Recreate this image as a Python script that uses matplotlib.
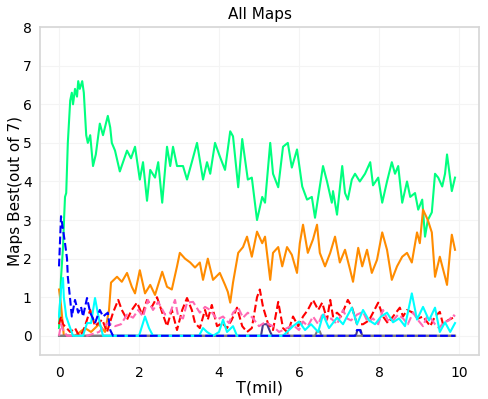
import numpy as np
import matplotlib
matplotlib.use('Agg')
import matplotlib.pyplot as plt

# Map share over time
greenT = [0.0, 0.05, 0.1, 0.125, 0.15, 0.18, 0.22, 0.28, 0.32, 0.35, 0.4, 0.45, 0.48, 0.52, 0.58, 0.62,
          0.68, 0.72, 0.78, 0.85, 0.92, 1.02, 1.1, 1.22, 1.28, 1.32, 1.4, 1.52, 1.6, 1.7, 1.8, 1.9,
          2.02, 2.1, 2.2, 2.28, 2.4, 2.48, 2.58, 2.7, 2.78, 2.85, 2.95, 3.1, 3.2, 3.32, 3.45, 3.6,
          3.7, 3.78, 3.9, 4.02, 4.15, 4.28, 4.35, 4.48, 4.58, 4.72, 4.82, 4.95, 5.08, 5.15, 5.28, 5.35,
          5.48, 5.6, 5.72, 5.82, 5.95, 6.08, 6.2, 6.32, 6.4, 6.52, 6.6, 6.7, 6.82, 6.85, 6.95, 7.08,
          7.15, 7.22, 7.32, 7.4, 7.52, 7.65, 7.78, 7.85, 7.98, 8.08, 8.2, 8.32, 8.4, 8.48, 8.58, 8.7,
          8.78, 8.9, 8.98, 9.08, 9.15, 9.22, 9.32, 9.4, 9.48, 9.58, 9.65, 9.7, 9.82, 9.9]
greenV = [0.2, 1.5, 2.3, 3.0, 3.6, 3.7, 5.0, 6.1, 6.3, 6.0, 6.4, 6.2, 6.6, 6.4, 6.6, 6.3,
          5.2, 5.0, 5.2, 4.4, 4.7, 5.5, 5.2, 5.7, 5.4, 5.0, 4.8, 4.26, 4.5, 4.8, 4.6, 4.9,
          4.05, 4.5, 3.5, 4.3, 4.1, 4.5, 3.45, 4.9, 4.4, 4.9, 4.4, 4.4, 4.05, 4.5, 5.0, 4.05,
          4.5, 4.2, 5.0, 4.65, 4.3, 5.3, 5.17, 3.85, 5.1, 4.05, 4.1, 3.0, 3.6, 3.45, 5.0, 4.2,
          3.85, 4.9, 5.0, 4.36, 4.83, 3.87, 3.53, 3.6, 3.06, 3.87, 4.4, 4.0, 3.45, 3.75, 3.14, 4.4,
          3.7, 3.53, 4.05, 4.2, 4.0, 4.2, 4.5, 3.9, 4.1, 3.45, 4.0, 4.5, 4.2, 4.4, 3.45, 4.0,
          3.6, 3.7, 3.27, 3.53, 2.57, 3.0, 3.2, 4.2, 4.1, 3.87, 4.2, 4.7, 3.75, 4.1]

orangeT = [0.0, 0.05, 0.12, 0.4, 0.65, 0.8, 1.0, 1.15, 1.25, 1.3, 1.45, 1.57, 1.7, 1.82, 1.9, 2.02,
           2.15, 2.28, 2.4, 2.58, 2.7, 2.82, 2.95, 3.02, 3.15, 3.28, 3.4, 3.52, 3.6, 3.72, 3.85, 4.02,
           4.15, 4.22, 4.28, 4.35, 4.48, 4.6, 4.7, 4.82, 4.95, 5.08, 5.15, 5.28, 5.35, 5.48, 5.58, 5.7,
           5.82, 5.95, 6.02, 6.1, 6.22, 6.35, 6.45, 6.52, 6.65, 6.78, 6.9, 7.02, 7.15, 7.28, 7.35, 7.48,
           7.58, 7.7, 7.82, 7.95, 8.08, 8.2, 8.32, 8.45, 8.58, 8.7, 8.82, 8.95, 9.02, 9.1, 9.22, 9.32,
           9.4, 9.52, 9.65, 9.7, 9.78, 9.82, 9.9]
orangeV = [1.2, 0.8, 0.0, 0.0, 0.2, 0.1, 0.3, 0.1, 0.67, 1.38, 1.53, 1.4, 1.63, 1.27, 1.1, 1.7,
           1.1, 1.32, 1.06, 1.66, 1.27, 1.2, 1.8, 2.15, 2.0, 1.9, 1.77, 1.9, 1.45, 2.0, 1.45, 1.63,
           1.32, 1.14, 0.86, 1.38, 2.15, 2.3, 2.57, 2.05, 2.7, 2.4, 2.57, 1.45, 2.15, 2.3, 1.8, 2.3,
           2.1, 1.63, 2.4, 2.88, 2.15, 2.5, 2.88, 2.15, 1.8, 2.15, 2.57, 1.9, 2.23, 1.7, 1.4, 2.28,
           1.8, 2.23, 1.63, 1.97, 2.68, 2.23, 1.45, 1.8, 2.05, 2.15, 1.9, 2.68, 2.4, 3.27, 3.0, 2.68,
           1.53, 2.05, 1.53, 1.32, 2.23, 2.62, 2.23]

redT = [0.0, 0.05, 0.1, 0.28, 0.4, 0.5, 0.6, 0.78, 0.9, 1.08, 1.2, 1.35, 1.48, 1.57, 1.7, 1.82,
        1.95, 2.08, 2.2, 2.32, 2.45, 2.58, 2.7, 2.82, 2.95, 3.08, 3.2, 3.32, 3.4, 3.52, 3.65, 3.72,
        3.82, 3.95, 4.08, 4.2, 4.32, 4.45, 4.58, 4.7, 4.82, 4.95, 5.02, 5.1, 5.22, 5.35, 5.48, 5.6,
        5.72, 5.85, 5.98, 6.1, 6.22, 6.35, 6.48, 6.58, 6.7, 6.78, 6.85, 6.95, 7.05, 7.22, 7.32, 7.45,
        7.6, 7.75, 7.98, 8.1, 8.22, 8.35, 8.52, 8.6, 8.7, 8.85, 8.98, 9.1, 9.28, 9.4, 9.52, 9.6,
        9.72, 9.85, 9.9]
redV = [0.3, 0.5, 0.3, 0.1, 0.2, 0.0, 0.1, 0.67, 0.25, 0.42, 0.1, 0.6, 0.93, 0.67, 0.42, 0.67,
        0.86, 0.55, 0.93, 0.75, 1.0, 0.6, 0.25, 0.67, 0.15, 0.67, 0.98, 0.67, 0.33, 0.2, 0.67, 0.42,
        0.8, 0.25, 0.33, 0.2, 0.42, 0.73, 0.25, 0.1, 0.2, 1.0, 1.2, 0.75, 0.33, 0.15, 0.88, 0.2,
        0.08, 0.5, 0.25, 0.5, 0.67, 0.93, 0.67, 0.86, 0.42, 0.93, 0.5, 0.6, 0.5, 0.93, 0.75, 0.3,
        0.3, 0.4, 0.86, 0.5, 0.33, 0.5, 0.73, 0.5, 0.67, 0.6, 0.45, 0.5, 0.25, 0.5, 0.62, 0.3,
        0.4, 0.47, 0.42]

pinkT = [0.0, 0.05, 0.1, 0.2, 0.7, 1.0, 1.22, 1.4, 1.55, 1.7, 1.85, 1.98, 2.1, 2.22, 2.35, 2.48,
         2.65, 2.78, 2.9, 2.98, 3.1, 3.2, 3.35, 3.52, 3.65, 3.78, 3.95, 4.1, 4.25, 4.35, 4.48, 4.6,
         4.72, 4.85, 5.0, 5.15, 5.35, 5.5, 5.7, 5.85, 6.0, 6.1, 6.22, 6.35, 6.48, 6.6, 6.7, 6.8,
         6.95, 7.1, 7.2, 7.3, 7.45, 7.6, 7.72, 7.85, 7.98, 8.1, 8.22, 8.35, 8.48, 8.6, 8.72, 8.85,
         8.98, 9.1, 9.2, 9.3, 9.4, 9.5, 9.62, 9.75, 9.85, 9.9]
pinkV = [0.0, 0.3, 0.15, 0.0, 0.0, 0.1, 0.33, 0.25, 0.3, 0.55, 0.47, 0.67, 0.5, 0.93, 0.67, 0.88,
         0.55, 0.6, 0.93, 0.5, 0.45, 0.86, 0.88, 0.6, 0.75, 0.67, 0.42, 0.5, 0.33, 0.6, 0.73, 0.47,
         0.6, 0.45, 0.25, 0.35, 0.25, 0.1, 0.2, 0.28, 0.15, 0.37, 0.25, 0.5, 0.3, 0.6, 0.4, 0.45,
         0.3, 0.67, 0.45, 0.4, 0.55, 0.62, 0.35, 0.45, 0.3, 0.67, 0.4, 0.4, 0.55, 0.45, 0.3, 0.6,
         0.4, 0.25, 0.5, 0.45, 0.3, 0.2, 0.35, 0.4, 0.55, 0.5]

cyanT = [0.0, 0.05, 0.1, 0.12, 0.18, 0.28, 0.35, 0.6, 0.7, 0.8, 0.9, 0.95, 1.02, 1.1, 2.0, 2.15,
         2.25, 2.35, 3.5, 3.6, 3.7, 3.85, 4.0, 4.1, 4.2, 4.35, 4.45, 5.6, 5.7, 5.85, 6.0, 6.15,
         6.3, 6.48, 6.6, 6.75, 6.95, 7.1, 7.2, 7.32, 7.45, 7.6, 7.75, 7.9, 8.05, 8.2, 8.35, 8.5,
         8.65, 8.82, 8.95, 9.1, 9.25, 9.4, 9.52, 9.65, 9.78, 9.9]
cyanV = [0.5, 1.2, 1.5, 1.0, 0.5, 0.2, 0.0, 0.0, 0.33, 0.33, 0.98, 0.7, 0.33, 0.0, 0.0, 0.5,
         0.2, 0.0, 0.0, 0.2, 0.1, 0.0, 0.1, 0.42, 0.1, 0.25, 0.0, 0.0, 0.1, 0.25, 0.37, 0.15,
         0.3, 0.1, 0.55, 0.2, 0.47, 0.3, 0.5, 0.73, 0.3, 0.67, 0.4, 0.3, 0.5, 0.6, 0.35, 0.45,
         0.25, 1.1, 0.42, 0.75, 0.4, 0.73, 0.1, 0.35, 0.1, 0.33]

blueT = [0.0, 0.05, 0.1, 0.15, 0.2, 0.22, 0.28, 0.32, 0.4, 0.48, 0.55, 0.6, 0.7, 0.78, 0.9, 1.02,
         1.1, 1.22, 1.28, 1.35, 7.4, 7.45, 7.52, 7.58, 9.9]
blueV = [1.8, 3.1, 2.75, 2.4, 2.0, 1.53, 0.93, 0.5, 0.93, 0.6, 0.75, 0.5, 0.98, 0.6, 0.33, 0.67,
         0.5, 0.6, 0.15, 0.0, 0.0, 0.15, 0.15, 0.0, 0.0]

navyT = [0.0, 5.05, 5.1, 5.2, 5.28, 5.33, 7.42, 7.46, 7.54, 7.58, 9.9]
navyV = [0.0, 0.0, 0.3, 0.3, 0.1, 0.0, 0.0, 0.15, 0.15, 0.0, 0.0]

grayT = [0.0, 6.4, 6.45, 6.52, 6.56, 9.9]
grayV = [0.0, 0.0, 0.12, 0.12, 0.0, 0.0]

fig = plt.figure(figsize=(4.88, 3.99), dpi=100)
ax = fig.add_axes([0.082, 0.110, 0.8996, 0.822])

ax.plot(greenT, greenV, color='springgreen', lw=1.5)
ax.plot(orangeT, orangeV, color='darkorange', lw=1.5)
ax.plot(navyT, navyV, color='darkslateblue', lw=1.5)
ax.plot(grayT, grayV, color='gray', lw=1.5)
ax.plot(redT, redV, color='red', lw=1.5, ls='--')
ax.plot(pinkT, pinkV, color='hotpink', lw=1.5, ls='--')
ax.plot(cyanT, cyanV, color='cyan', lw=1.5)
ax.plot(blueT, blueV, color='blue', lw=1.5, ls='--')

ax.set_xlim(-0.475, 10.5)
ax.set_ylim(-0.5, 8)
ax.set_xticks(np.arange(0, 11, 2))
ax.set_yticks(np.arange(0, 9, 1))
ax.grid(True, color='#f4f4f4', lw=0.8)
ax.set_axisbelow(True)
ax.tick_params(axis='x', length=0, labelsize=10, pad=8)
ax.tick_params(axis='y', length=0, labelsize=10, pad=6)
for s in ax.spines.values():
    s.set_color('#d6d6d6')
    s.set_linewidth(1.2)

ax.set_title('All Maps', fontsize=11)
ax.set_xlabel('T(mil)', fontsize=11.5, labelpad=0)
ax.set_ylabel('Maps Best(out of 7)', fontsize=11, labelpad=0)

fig.savefig('out.png', dpi=100)
